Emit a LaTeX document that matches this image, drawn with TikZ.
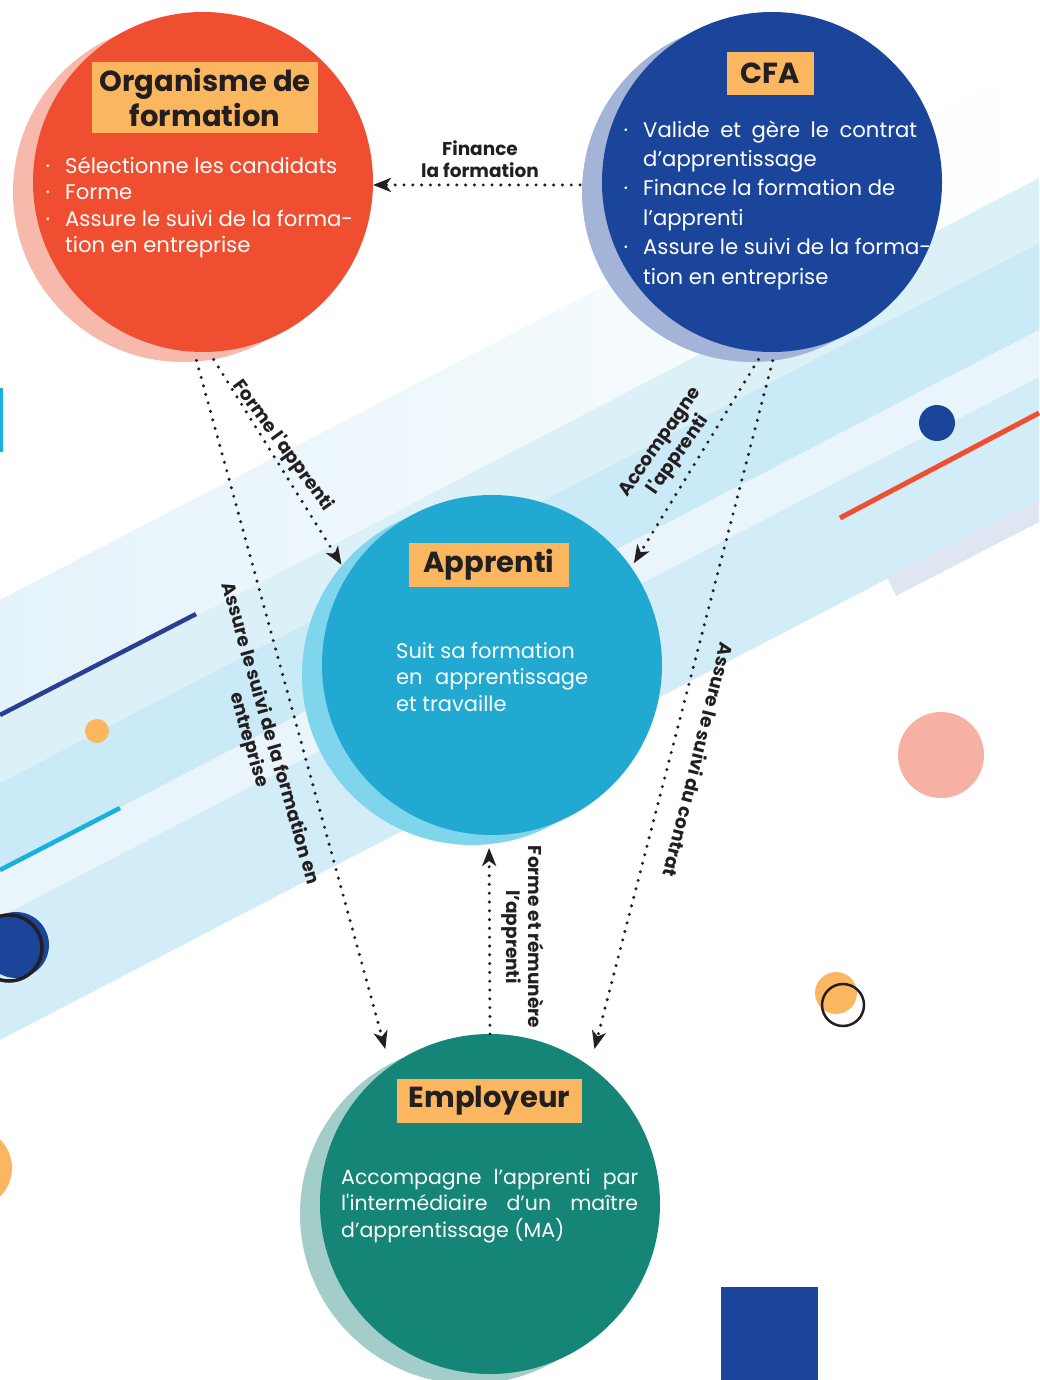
\documentclass[tikz,border=0pt]{standalone}
\usepackage{fontspec}
\setmainfont{Poppins}
\usetikzlibrary{arrows.meta}

\definecolor{orgared}{HTML}{EF4F30}
\definecolor{orgahalo}{HTML}{F6B9AB}
\definecolor{cfablue}{HTML}{1A459A}
\definecolor{cfahalo}{HTML}{A3B4D8}
\definecolor{appcyan}{HTML}{21A9D2}
\definecolor{apphalo}{HTML}{7FD5EC}
\definecolor{empgreen}{HTML}{148577}
\definecolor{emphalo}{HTML}{A2CDC9}
\definecolor{tagorange}{HTML}{FBB760}
\definecolor{ink}{HTML}{231F20}
\definecolor{bandA}{HTML}{E4F3FA}
\definecolor{bandB}{HTML}{DCF0F8}
\definecolor{bandC}{HTML}{C9EAF6}
\definecolor{bandD}{HTML}{E9F5FB}
\definecolor{bandE}{HTML}{D2EDF7}
\definecolor{lavender}{HTML}{E0E5F2}
\definecolor{lineblue}{HTML}{283F93}
\definecolor{linecyan}{HTML}{17B1DF}
\definecolor{dotpink}{HTML}{F7B1A4}

\newcommand\puce{\llap{·\hspace{15pt}}}

\tikzset{
  every actor/.style={circle, minimum size=340pt, inner sep=0pt, outer sep=0pt},
  actor orga/.style={fill=orgared},
  actor cfa/.style={fill=cfablue},
  actor apprenti/.style={fill=appcyan},
  actor employeur/.style={fill=empgreen},
  halo orga/.style={fill=orgahalo},
  halo cfa/.style={fill=cfahalo},
  halo apprenti/.style={fill=apphalo},
  halo employeur/.style={fill=emphalo},
  tag/.style={fill=tagorange, text=ink, inner sep=0pt, align=center,
    font=\bfseries\fontsize{29}{35}\selectfont},
  body/.style={text=white, inner sep=0pt, align=left, anchor=north west},
  link/.style={ink, line width=3.4pt, dash pattern=on 0pt off 8.8pt, line cap=round,
    -{Stealth[length=18pt, width=14pt, inset=5pt]}},
  link label/.style={text=ink, inner sep=0pt, align=center,
    font=\bfseries\fontsize{18.5}{22}\selectfont}
}

\begin{document}
\begin{tikzpicture}[x=1pt, y=-1pt]
\useasboundingbox (0,0) rectangle (1039,1380);

% background stripes
\shade [left color=bandA, right color=white] (0,600) -- (1039,60) -- (1039,178) -- (0,718) -- cycle;
\foreach \a/\b/\c in {718/783/bandB, 783/870/bandC, 870/917/bandD, 917/1040/bandE}
  \fill [\c] (0,\a) -- (1039,\a-540) -- (1039,\b-540) -- (0,\b) -- cycle;
\fill [lavender] (887,577) -- (1039,500) -- (1039,522) -- (896,596) -- cycle;

% small decorations
\fill [linecyan] (0,388) rectangle (3,452);
\fill [cfablue] (937,423) circle (18);
\draw [orgared, line width=5pt] (840,518) -- (1039,413);
\draw [lineblue, line width=4.5pt] (0,715) -- (196,614);
\fill [tagorange] (97,731) circle (12);
\draw [linecyan, line width=4.5pt] (0,870) -- (120,808);
\fill [cfablue] (16,945) circle (33);
\draw [ink, line width=3.5pt] (9,948) circle (33);
\fill [dotpink] (941,755) circle (43);
\fill [tagorange] (836,993) circle (21);
\draw [ink, line width=2.5pt] (843,1005) circle (21);
\fill [tagorange] (-28,1168) circle (40);
\fill [cfablue] (721,1287) rectangle (818,1380);

% actors
\foreach \m/\x/\y in {orga/203/182, cfa/772/182, apprenti/492/665, employeur/490/1204}
{
  \fill [halo \m/.try] (\x-20,\y+10) circle (170);
  \node [every actor/.try, actor \m/.try] (actor-\m) at (\x,\y) {};
}

\node [tag, minimum width=226pt, minimum height=71pt] (title-orga) at (205,97.5) {Organisme de\\formation};
\node [tag, minimum width=87pt, minimum height=43pt] (title-cfa) at (770.5,73.5) {CFA};
\node [tag, minimum width=160pt, minimum height=44pt] (title-apprenti) at (489,565) {Apprenti};
\node [tag, minimum width=185pt, minimum height=44pt] (title-employeur) at (489.5,1101) {Employeur};

\node [body, font=\fontsize{21.2}{26.5}\selectfont] (text-orga) at (65,154.5)
  {\strut\puce Sélectionne les candidats\\
   \puce Forme\\
   \puce Assure le suivi de la forma-\\
   tion en entreprise};
\node [body, font=\fontsize{21.2}{29.4}\selectfont] (text-cfa) at (643,116.4)
  {\strut\puce\makebox[274pt][s]{Valide et gère le contrat}\\
   d’apprentissage\\
   \puce Finance la formation de\\
   l’apprenti\\
   \puce Assure le suivi de la forma-\\
   tion en entreprise};
\node [body, font=\fontsize{21}{26.5}\selectfont] (text-apprenti) at (396,639.5)
  {\strut Suit sa formation\\
   \makebox[192pt][s]{en apprentissage}\\
   et travaille};
\node [body, font=\fontsize{20.5}{26.5}\selectfont] (text-employeur) at (341,1165.5)
  {\strut\makebox[297pt][s]{Accompagne l’apprenti par}\\
   \makebox[297pt][s]{l\textquotesingle intermédiaire d’un maître}\\
   d’apprentissage (MA)};

% links
\draw [link, shorten <=22pt] (actor-cfa.181) -- (actor-orga.-1);
\draw [link, shorten <=9pt, shorten >=12pt] (actor-orga.-88) -- (actor-apprenti.148);
\draw [link, shorten <=9pt, shorten >=18pt] (actor-orga.-93) -- (actor-employeur.126);
\draw [link, shorten <=9pt, shorten >=5pt] (actor-cfa.-93) -- (actor-apprenti.35);
\draw [link, shorten <=9pt, shorten >=18pt] (actor-cfa.-89) -- (actor-employeur.54);
\draw [link, shorten >=13pt] (actor-employeur.north) -- (actor-apprenti.-91);

\node [link label] (lbl-finance) at (480,159) {Finance\\la formation};
\node [link label, rotate=-54] (lbl-forme) at (283,446) {Forme l\textquotesingle apprenti};
\node [link label, rotate=55] (lbl-accompagne) at (670,449) {Accompagne\\l\textquotesingle apprenti};
\node [link label, rotate=-74] (lbl-suivi-formation) at (259,737) {Assure le suivi de la formation en\\entreprise};
\node [link label, rotate=-104] (lbl-suivi-contrat) at (699,760) {Assure le suivi du contrat};
\node [link label, rotate=-90] (lbl-remunere) at (523,937) {Forme et rémunère\\l’apprenti};

\end{tikzpicture}
\end{document}
